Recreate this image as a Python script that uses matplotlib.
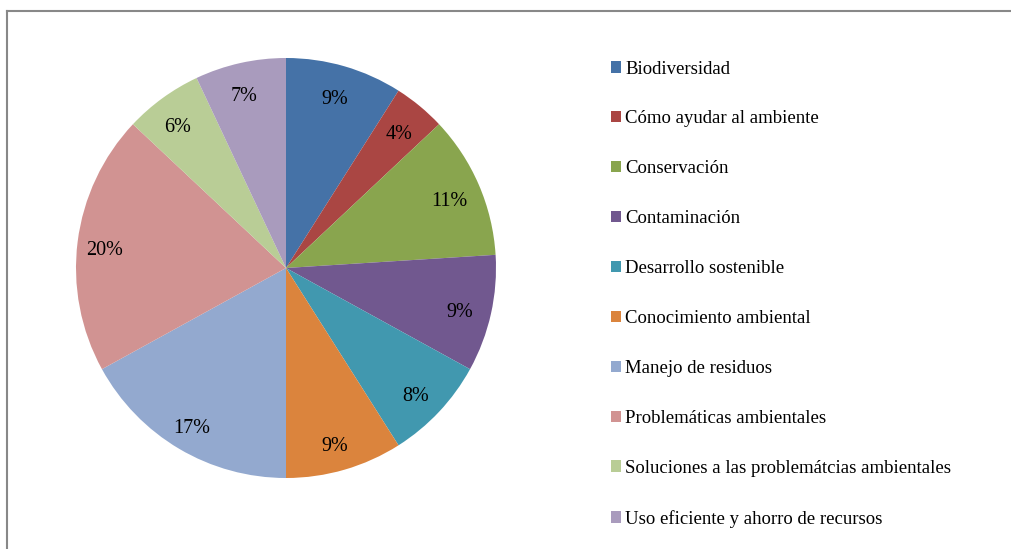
import matplotlib.pyplot as plt
from matplotlib.lines import Line2D
from matplotlib.patches import Patch

labels = ["Biodiversidad", "Cómo ayudar al ambiente", "Conservación", "Contaminación",
          "Desarrollo sostenible", "Conocimiento ambiental", "Manejo de residuos",
          "Problemáticas ambientales", "Soluciones a las problemátcias ambientales",
          "Uso eficiente y ahorro de recursos"]
values = [9, 4, 11, 9, 8, 9, 17, 20, 6, 7]
colors = ["#4572A7", "#AA4643", "#89A54E", "#71588F", "#4198AF",
          "#DB843D", "#93A9CF", "#D19392", "#B9CD96", "#A99BBD"]

plt.rcParams['font.family'] = ['Liberation Serif', 'DejaVu Serif']

W, H = 1012, 549
fig = plt.figure(figsize=(W / 100, H / 100), dpi=100)

# pie centre (286, 268) px, radius 210 px
cx, cy, r = 286, 268, 210
ax = fig.add_axes([(cx - r) / W, (H - cy - r) / H, 2 * r / W, 2 * r / H])
wedges, texts, autotexts = ax.pie(values, colors=colors, startangle=90, counterclock=False,
                                  autopct='%d%%', pctdistance=0.86,
                                  textprops=dict(fontsize=14.5, color='black'))
for t in autotexts:
    x, y = t.get_position()
    t.set_position((x - 0.01, y - 0.025))
ax.set_xlim(-1, 1)
ax.set_ylim(-1, 1)
ax.set_aspect('equal')
ax.axis('off')

handles = [Patch(facecolor=c, edgecolor='none') for c in colors]
fig.legend(handles, labels, loc='upper left', bbox_to_anchor=(611 / W, 1 - 60.5 / H),
           frameon=False, fontsize=13.5, handlelength=0.55, handleheight=0.55,
           handletextpad=0.2, labelspacing=1.755, borderaxespad=0, borderpad=0)

# chart frame
fig.add_artist(Line2D([7 / W, 1], [1 - 10.5 / H, 1 - 10.5 / H], color='#888888', lw=1.5,
                      transform=fig.transFigure))
fig.add_artist(Line2D([7.5 / W, 7.5 / W], [0, 1 - 10.5 / H], color='#888888', lw=1.5,
                      transform=fig.transFigure))

fig.savefig("out.png", dpi=100)
